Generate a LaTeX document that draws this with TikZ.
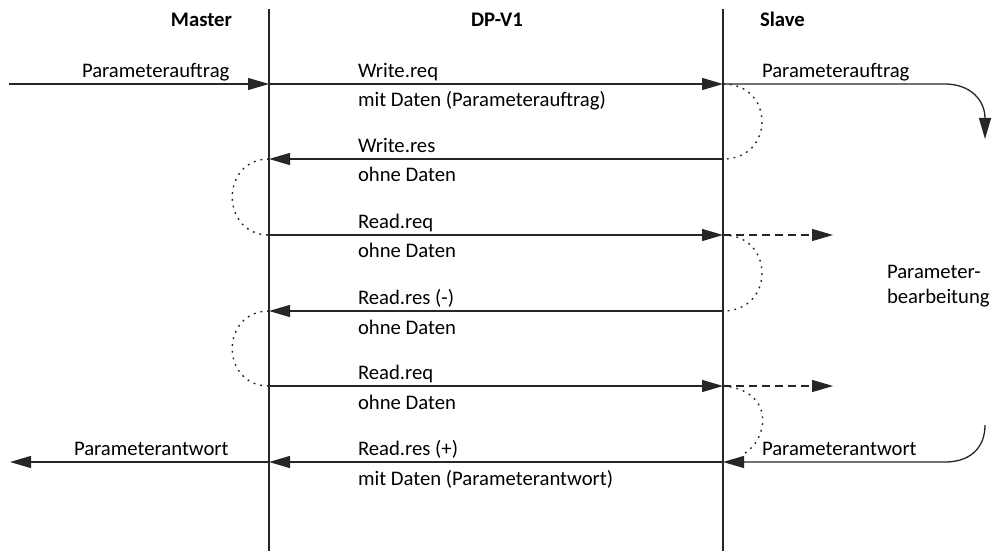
\documentclass[tikz,border=0pt]{standalone}
\usepackage{fontspec}
\setmainfont{Carlito}
\usetikzlibrary{arrows.meta}
\begin{document}
\begin{tikzpicture}[x=1pt,y=-1pt,
  every node/.style={inner sep=0pt,outer sep=0pt,font=\fontsize{20.7}{25}\selectfont},
  head/.style={font=\fontsize{20.7}{25}\selectfont\bfseries,anchor=base},
  lbl/.style={anchor=base west},
  lane/.style={line width=1.6pt,draw=black!85},
  msg/.style={line width=1.3pt,draw=black!85,-{Triangle[length=21pt,width=12pt]}},
  dotline/.style={line width=1.4pt,draw=black!85,dash pattern=on 1.8pt off 5pt},
  dashline/.style={line width=1.3pt,draw=black!85,dash pattern=on 8pt off 5pt,-{Triangle[length=21pt,width=12pt]}}]
\useasboundingbox (0,0) rectangle (995,553);
% lanes
\coordinate (mtop) at (269,9); \coordinate (mbot) at (269,551);
\coordinate (stop) at (723,9); \coordinate (sbot) at (723,551);
\draw[lane] (mtop) -- (mbot);
\draw[lane] (stop) -- (sbot);
% headings
\node[head,anchor=base east] (hm) at (232,27) {Master};
\node[head] (hd) at (497,27) {DP-V1};
\node[head,anchor=base west] (hs) at (760,27) {Slave};
% lane points
\foreach \n/\y in {1/84,2/159,3/235,4/311,5/386,6/462}{
  \coordinate (m\n) at (269,\y);
  \coordinate (s\n) at (723,\y);
}
\coordinate (inL) at (9,84);
\coordinate (outL) at (10,462);
\coordinate (rc1) at (985,139);
\coordinate (rc2) at (985,425);
\coordinate (d3) at (833,235);
\coordinate (d5) at (833,386);
\coordinate (dend) at (742,455);
% left side
\draw[msg] (inL) -- (m1);
\node[lbl] (pa1) at (82,77.5) {Parameterauftrag};
\draw[msg] (m6) -- (outL);
\node[lbl] (pw1) at (74,455) {Parameterantwort};
% messages
\draw[msg] (m1) -- (s1);
\node[lbl] (t1a) at (358,77.5) {Write.req};
\node[lbl] (t1b) at (358,107) {mit Daten (Parameterauftrag)};
\draw[msg] (s2) -- (m2);
\node[lbl] (t2a) at (358,152.5) {Write.res};
\node[lbl] (t2b) at (358,182) {ohne Daten};
\draw[msg] (m3) -- (s3);
\node[lbl] (t3a) at (358,228.5) {Read.req};
\node[lbl] (t3b) at (358,258) {ohne Daten};
\draw[msg] (s4) -- (m4);
\node[lbl] (t4a) at (358,304.5) {Read.res (-)};
\node[lbl] (t4b) at (358,334) {ohne Daten};
\draw[msg] (m5) -- (s5);
\node[lbl] (t5a) at (358,379.5) {Read.req};
\node[lbl] (t5b) at (358,409) {ohne Daten};
\draw[msg] (s6) -- (m6);
\node[lbl] (t6a) at (358,455.5) {Read.res (+)};
\node[lbl] (t6b) at (358,485) {mit Daten (Parameterantwort)};
% dotted turnarounds
\draw[dotline] (s1) .. controls (775,84) and (775,159) .. (s2);
\draw[dotline] (m2) .. controls (220,159) and (220,235) .. (m3);
\draw[dotline] (s3) .. controls (775,235) and (775,311) .. (s4);
\draw[dotline] (m4) .. controls (220,311) and (220,386) .. (m5);
\draw[dotline] (s5) .. controls (775,390) and (770,440) .. (dend);
% dashed continuation
\draw[dashline] (s3) -- (d3);
\draw[dashline] (s5) -- (d5);
% slave side
\draw[msg] (s1) -- (945,84) .. controls (970,84) and (985,100) .. (rc1);
\node[lbl] (pa2) at (762,77.5) {Parameterauftrag};
\draw[msg] (rc2) .. controls (985,448) and (970,462) .. (945,462) -- (s6);
\node[lbl] (pw2) at (762,455) {Parameterantwort};
\node[lbl] (pb1) at (887,278) {Parameter-};
\node[lbl] (pb2) at (887,303) {bearbeitung};
\end{tikzpicture}
\end{document}
